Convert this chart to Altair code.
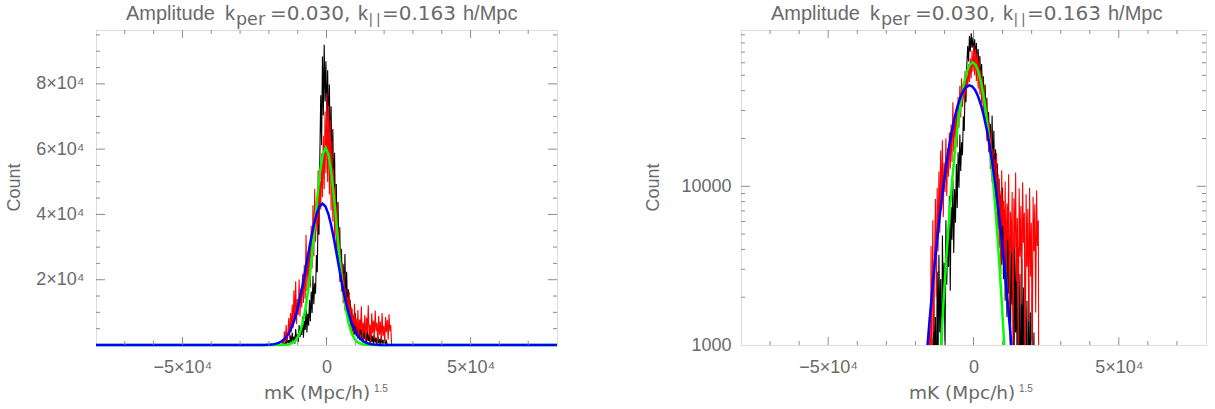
import altair as alt
import pandas as pd

# ---------------- data ----------------
BIN_START = -15500
BIN_WIDTH = 300
red_counts = [50,
              1500, 300, 4200, 800, 6100, 1200, 3500, 8300, 2000, 9800,
              3900, 12400, 5100, 16800, 7200, 19500, 6400, 14100, 9200, 20100,
              8700, 17300, 11500, 21800, 12900, 24600, 14200, 33800, 16500, 27400,
              19800, 31200, 17600, 36500, 23400, 42800, 27100, 47900, 31600, 44200,
              34800, 53500, 36900, 50200, 41500, 58700, 45300, 64100, 47800, 71500,
              52600, 77200, 49900, 73400, 46100, 68800, 41200, 62500, 37800, 54100,
              33200, 48600, 28400, 43100, 24800, 35900, 19300, 29700, 16400, 25200,
              12800, 21900, 10600, 17300, 8900, 14800, 7100, 16200, 5200, 11900,
              4300, 9400, 2800, 12600, 5600, 8100, 3400, 10700, 2100, 7800,
              4600, 11900, 1300, 6900, 3800, 9200, 900, 8400, 4100, 12200,
              2500, 6300, 700, 9700, 3600, 7500, 1800, 10600, 4400, 6800,
              500, 8900, 3100, 7200, 1400, 9800, 2700, 5900, 800, 8600,
              3900, 7700, 1600, 9400, 4200, 6100,
              50]
black_counts = [50,
                50, 400, 50, 1100, 150, 2200, 600, 1500, 300, 2900,
                800, 3700, 1200, 2600, 400, 4900, 1800, 3300, 900, 6100,
                2400, 5200, 3100, 8700, 2200, 7400, 4600, 10900, 3800, 9600,
                5900, 13800, 7300, 16400, 9800, 21200, 12500, 18900, 15700, 27600,
                22300, 41500, 33800, 58200, 76500, 61200, 88400, 70300, 92000, 74600,
                86900, 68100, 84200, 63500, 79800, 57400, 73100, 51800, 66200, 44700,
                58900, 38200, 49300, 31600, 43800, 25900, 36100, 19800, 29400, 16300,
                24700, 13200, 27900, 11800, 22400, 9600, 17100, 7800, 13900, 5400,
                11200, 4100, 8900, 3200, 9800, 2600, 7100, 1900, 6200, 1500,
                7400, 2100, 4800, 700, 5600, 1800, 3900, 400, 4700, 1200,
                3300, 300, 4100, 900, 2800, 200, 3500, 700, 2300, 100,
                2900, 500, 1900, 100, 2600, 400, 1600, 50, 2100, 300,
                1200, 50, 50, 50, 50, 50,
                50]

blue_x = [-80000, -23400, -21400, -19400, -18400, -17400, -16400, -15400, -14400, -13400,
          -12400, -11400, -10400, -9400, -8400, -7400, -6400, -5400, -4400, -3400,
          -2400, -1400, -400, 600, 1600, 2600, 3600, 4600, 5600, 6600,
          7600, 8600, 9600, 10600, 11600, 12600, 13600, 14600, 15600, 16600,
          18600, 20600, 80000]
blue_y = [0.001, 6.6, 30, 121, 228, 416, 730, 1235, 2020, 3170,
          4820, 7050, 9960, 13550, 17800, 22520, 27500, 32390, 36770, 40270,
          42520, 43300, 42520, 40270, 36770, 32390, 27500, 22520, 17800, 13550,
          9960, 7050, 4820, 3170, 2020, 1235, 730, 416, 228, 121,
          30, 6.6, 0.001]

green_x = [-80000, -16300, -14300, -13300, -12300, -11300, -10300, -9300, -8300, -7300,
           -6300, -5300, -4300, -3300, -2300, -1300, -300, 700, 1700, 2700,
           3700, 4700, 5700, 6700, 7700, 8700, 9700, 10700, 11700, 12700,
           13700, 15700, 80000]
green_y = [0.001, 8.5, 68, 174, 413, 915, 1893, 3650, 6590, 11070,
           17370, 25420, 34710, 44230, 52590, 58340, 60400, 58340, 52590, 44230,
           34710, 25420, 17370, 11070, 6590, 3650, 1893, 915, 413, 174,
           68, 8.5, 0.001]

x_major = [-50000, 0, 50000]
x_minor = [-70000, -60000, -40000, -30000, -20000, -10000,
           10000, 20000, 30000, 40000, 60000, 70000]
lin_major = [20000, 40000, 60000, 80000]
lin_minor = [5000, 10000, 15000, 25000, 30000, 35000, 45000, 50000, 55000,
             65000, 70000, 75000, 85000, 90000, 95000]
log_major = [10000]
log_minor = [2000, 3000, 4000, 5000, 6000, 7000, 8000, 9000,
             20000, 30000, 40000, 50000, 60000, 70000, 80000, 90000]
log_labels = [1000, 10000]

X_DOMAIN = [-80000, 80000]
LIN_DOMAIN = [0, 96500]
LOG_DOMAIN = [1000, 96500]

# ---------------- styling ----------------
FONT = "Liberation Sans"
FONT2 = "DejaVu Sans"
TXT = "#6a6a6a"
AX = "#8c8c8c"
H = 315
W1 = 461
W2 = 465

centers = [BIN_START + i * BIN_WIDTH for i in range(len(red_counts))]
hist = pd.DataFrame({"x": centers, "red": red_counts, "black": black_counts})
blue = pd.DataFrame({"x": blue_x, "y": blue_y})
green = pd.DataFrame({"x": green_x, "y": green_y})
dummy = pd.DataFrame({"d": [0]})


def txt(s, x, y, size, align="left", angle=0, baseline="alphabetic", font=FONT):
    return alt.Chart(dummy).mark_text(
        text=s, align=align, baseline=baseline, fontSize=size, font=font,
        color=TXT, angle=angle
    ).encode(x=alt.value(x), y=alt.value(y))


def panel(width, log):
    xs = alt.Scale(domain=X_DOMAIN, nice=False, zero=False)
    if log:
        ys = alt.Scale(type="log", domain=LOG_DOMAIN, nice=False)
        yaxis = alt.Axis(values=log_labels, format="d", title=None, grid=False,
                         ticks=False, tickSize=0, domain=False, labelFont=FONT,
                         labelFontSize=18, labelColor=TXT, labelPadding=10)
        ymaj, ymin = log_major, log_minor
        count_x = -87
    else:
        ys = alt.Scale(domain=LIN_DOMAIN, nice=False, zero=False)
        yaxis = alt.Axis(values=lin_major, labelExpr="datum.value/10000 + '×10⁴'",
                         title=None, grid=False, ticks=False, tickSize=0, domain=False,
                         labelFont=FONT, labelFontSize=18, labelColor=TXT,
                         labelPadding=12)
        ymaj, ymin = lin_major, lin_minor
        count_x = -81
    xaxis = alt.Axis(values=x_major,
                     labelExpr="datum.value == 0 ? '0' : (datum.value < 0 ? '−' : '') + abs(datum.value)/10000 + '×10⁴'",
                     title=None, grid=False, ticks=False, tickSize=0, domain=False,
                     labelFont=FONT, labelFontSize=18, labelColor=TXT, labelPadding=13)

    base_h = alt.Chart(hist)
    black = base_h.mark_line(color="black", strokeWidth=1.1, clip=True).encode(
        x=alt.X("x:Q", scale=xs, axis=xaxis), y=alt.Y("black:Q", scale=ys, axis=yaxis))
    red = base_h.mark_line(color="#ff0000", strokeWidth=1.1, clip=True).encode(
        x=alt.X("x:Q", scale=xs), y=alt.Y("red:Q", scale=ys))
    grn = alt.Chart(green).mark_line(color="#00ff00", strokeWidth=2.5, clip=log).encode(
        x=alt.X("x:Q", scale=xs), y=alt.Y("y:Q", scale=ys))
    blu = alt.Chart(blue).mark_line(color="#0000ff", strokeWidth=2.5, clip=log).encode(
        x=alt.X("x:Q", scale=xs), y=alt.Y("y:Q", scale=ys))

    def xt(vals, y0, y1):
        return alt.Chart(pd.DataFrame({"v": vals})).mark_rule(color=AX, strokeWidth=1).encode(
            x=alt.X("v:Q", scale=xs), y=alt.value(y0), y2=alt.value(y1))

    def yt(vals, x0, x1):
        return alt.Chart(pd.DataFrame({"v": vals})).mark_rule(color=AX, strokeWidth=1).encode(
            y=alt.Y("v:Q", scale=ys), x=alt.value(x0), x2=alt.value(x1))

    ticks = [xt(x_major, H, H - 8), xt(x_minor, H, H - 4),
             xt(x_major, 0, 8), xt(x_minor, 0, 4),
             yt(ymaj, 0, 9), yt(ymin, 0, 4),
             yt(ymaj, width, width - 9), yt(ymin, width, width - 4)]

    texts = [
        txt("Amplitude", 30, -10, 20),
        txt("k", 129, -10, 20),
        txt("per", 140, -5, 17.5, font=FONT2),
        txt("=0.030,", 174, -10, 20, font=FONT2),
        txt("k", 262, -10, 20),
        txt("| |", 273, -6, 14),
        txt("=0.163", 286, -10, 20, font=FONT2),
        txt("h/Mpc", 367, -10, 20),
        txt("mK (Mpc/h)", 168, 369, 18.5, font=FONT2),
        txt("1.5", 278, 362, 10),
        txt("Count", count_x, H / 2, 18, align="center", angle=270, baseline="middle"),
    ]
    return alt.layer(black, red, grn, blu, *ticks, *texts).properties(width=width, height=H)


left = panel(W1, False)
right = panel(W2, True)

chart = alt.hconcat(left, right, spacing=184, bounds="flush").properties(
    padding={"left": 5, "top": 3, "right": 5, "bottom": 5}
).configure_view(stroke=AX, strokeWidth=1).configure(background="white")

chart.save("out.html", embed_options={"renderer": "svg", "actions": False})
